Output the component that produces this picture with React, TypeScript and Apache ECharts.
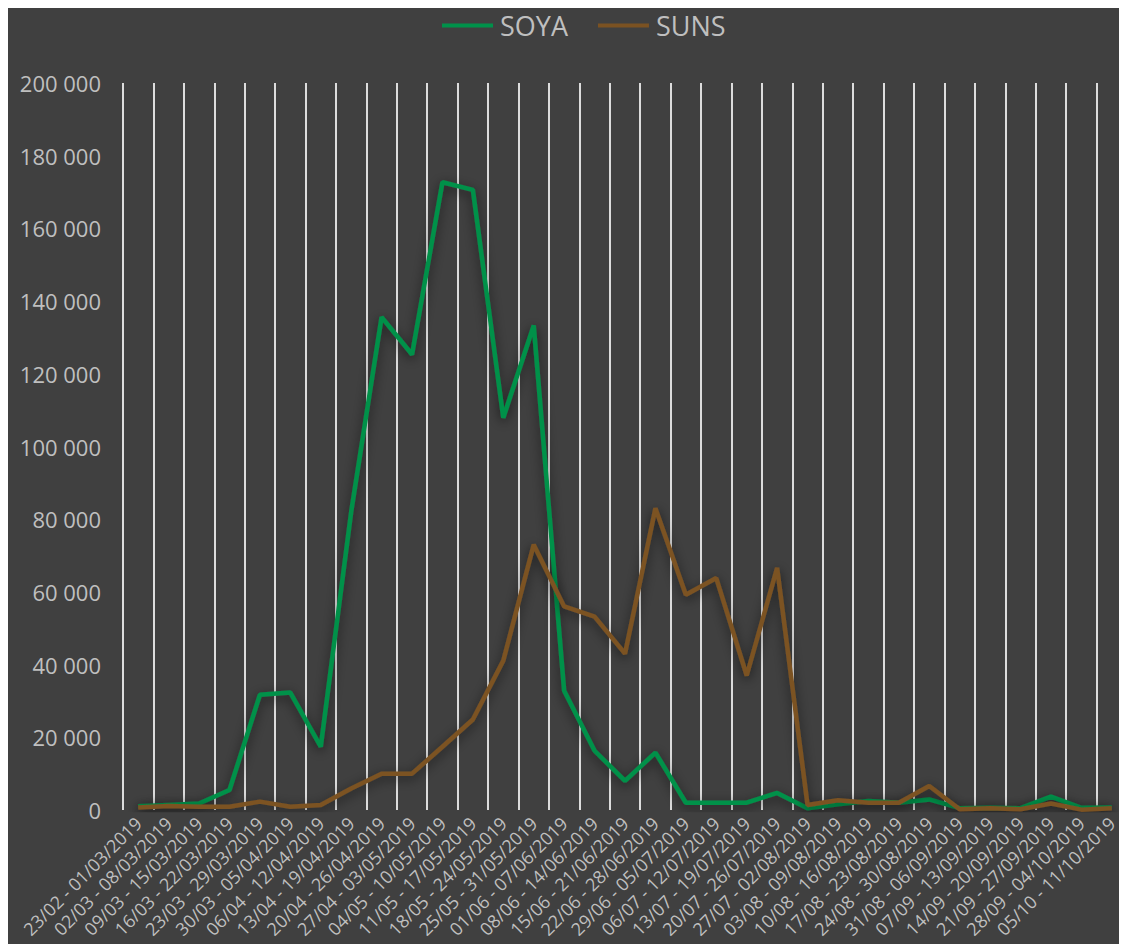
import React, { useEffect, useRef } from "react";
import * as echarts from "echarts";

const categories = [
  "23/02 - 01/03/2019", "02/03 - 08/03/2019", "09/03 - 15/03/2019", "16/03 - 22/03/2019",
  "23/03 - 29/03/2019", "30/03 - 05/04/2019", "06/04 - 12/04/2019", "13/04 - 19/04/2019",
  "20/04 - 26/04/2019", "27/04 - 03/05/2019", "04/05 - 10/05/2019", "11/05 - 17/05/2019",
  "18/05 - 24/05/2019", "25/05 - 31/05/2019", "01/06 - 07/06/2019", "08/06 - 14/06/2019",
  "15/06 - 21/06/2019", "22/06 - 28/06/2019", "29/06 - 05/07/2019", "06/07 - 12/07/2019",
  "13/07 - 19/07/2019", "20/07 - 26/07/2019", "27/07 - 02/08/2019", "03/08 - 09/08/2019",
  "10/08 - 16/08/2019", "17/08 - 23/08/2019", "24/08 - 30/08/2019", "31/08 - 06/09/2019",
  "07/09 - 13/09/2019", "14/09 - 20/09/2019", "21/09 - 27/09/2019", "28/09 - 04/10/2019",
  "05/10 - 11/10/2019",
];

const soya = [
  1000, 1400, 1800, 5500, 31700, 32300, 17400, 82000, 135600, 125300, 172700, 170600,
  107900, 133300, 32800, 16300, 8000, 15800, 2000, 2000, 2000, 4700, 450, 1550,
  2500, 2000, 2900, 500, 600, 500, 3700, 600, 700,
];

const suns = [
  700, 1100, 900, 900, 2300, 900, 1400, 5900, 10000, 10000, 17400, 24900,
  41100, 73000, 56000, 53200, 43000, 83000, 59200, 63800, 37000, 66600, 1400, 2700,
  2000, 2000, 6600, 200, 500, 200, 1800, 100, 500,
];

const seriesNames = ["SOYA", "SUNS"];
const seriesColors = ["#00914a", "#7b5222"];

const FONT = "'Open Sans', sans-serif";
const TEXT = "#bfbfbf";

function fmt(v: number): string {
  return String(v).replace(/\B(?=(\d{3})+(?!\d))/g, " ");
}

export default function App() {
  const ref = useRef<HTMLDivElement>(null);
  useEffect(() => {
    if (!ref.current) return;
    const chart = echarts.init(ref.current, null, { renderer: "svg" });
    const mk = (name: string, data: number[], color: string) => ({
      name,
      type: "line",
      data,
      symbol: "none",
      lineStyle: {
        color,
        width: 4.5,
        shadowColor: "rgba(0,0,0,0.6)",
        shadowBlur: 12,
        shadowOffsetY: 3,
      },
      itemStyle: { color },
    });
    chart.setOption({
      animation: false,
      backgroundColor: "#404040",
      legend: {
        top: 12,
        left: 442,
        padding: 0,
        icon: "rect",
        itemWidth: 51,
        itemHeight: 4,
        itemGap: 30,
        textStyle: { color: TEXT, fontSize: 27, fontFamily: FONT, padding: [0, 0, 0, 2] },
        data: seriesNames,
      },
      grid: { left: 123, right: -8, top: 83, bottom: 142, containLabel: false },
      xAxis: {
        type: "category",
        data: categories,
        boundaryGap: true,
        axisLine: { show: false },
        axisTick: { show: false },
        splitLine: {
          show: true,
          interval: 0,
          lineStyle: { color: "#dcdcdc", width: 2 },
        },
        axisLabel: {
          interval: 0,
          rotate: 45,
          color: TEXT,
          fontSize: 18,
          fontFamily: FONT,
          margin: 10,
        },
      },
      yAxis: {
        type: "value",
        min: 0,
        max: 200000,
        interval: 20000,
        axisLine: { show: false },
        axisTick: { show: false },
        splitLine: { show: false },
        axisLabel: {
          color: TEXT,
          fontSize: 22,
          fontFamily: FONT,
          margin: 22,
          formatter: (v: number) => fmt(v),
        },
      },
      series: [
        mk(seriesNames[0], soya, seriesColors[0]),
        mk(seriesNames[1], suns, seriesColors[1]),
      ],
    });
    return () => chart.dispose();
  }, []);
  return <div ref={ref} style={{ width: 1127, height: 952, margin: -8 }} />;
}
